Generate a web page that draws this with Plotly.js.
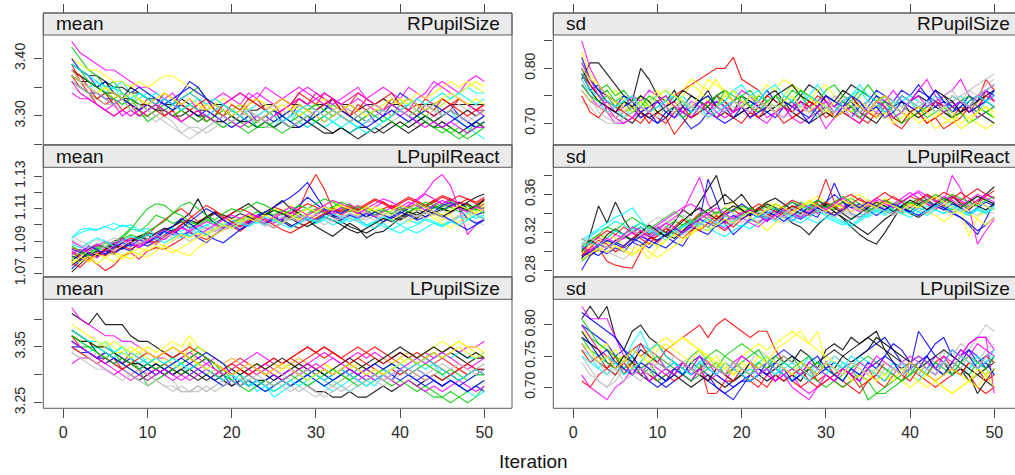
<!DOCTYPE html>
<html>
<head>
<meta charset="utf-8">
<script src="https://cdn.plot.ly/plotly-3.0.1.min.js"></script>
<style>
  html, body { margin: 0; padding: 0; background: #ffffff; }
  #chart { width: 1015px; height: 475px; }
</style>
</head>
<body>
<div id="chart"></div>
<script>
// Convergence trace plot of imputed-value means and SDs across 50 iterations,
// one line per imputation chain.

const iteration = Array.from({ length: 50 }, (_, i) => i + 1);
const iterTicks = [0, 10, 20, 30, 40, 50];

const statLabels = ['mean', 'sd'];
const varLabels = ['RPupilSize', 'LPupilReact', 'LPupilSize'];

// chain colours (R base palette, cycled)
const chainColors = ['#000000', '#FF0000', '#00CD00', '#0000FF', '#00FFFF', '#FF00FF', '#FFFF00', '#BEBEBE'];

// y tick positions and labels per panel
const ticksMeanRSize = [3.25, 3.30, 3.35, 3.40];
const labelsMeanRSize = ['', '3.30', '', '3.40'];
const ticksSdRSize = [0.70, 0.75, 0.80, 0.85];
const labelsSdRSize = ['0.70', '', '0.80', ''];
const ticksMeanLReact = [1.07, 1.08, 1.09, 1.10, 1.11, 1.12, 1.13];
const labelsMeanLReact = ['1.07', '', '1.09', '', '1.11', '', '1.13'];
const ticksSdLReact = [0.28, 0.30, 0.32, 0.34, 0.36, 0.38];
const labelsSdLReact = ['0.28', '', '0.32', '', '0.36', ''];
const ticksMeanLSize = [3.25, 3.30, 3.35, 3.40];
const labelsMeanLSize = ['3.25', '', '3.35', ''];
const ticksSdLSize = [0.70, 0.75, 0.80];
const labelsSdLSize = ['0.70', '0.75', '0.80'];

const meanRPupilSize = [
[3.39,3.38,3.37,3.37,3.36,3.35,3.35,3.34,3.34,3.33,3.33,3.32,3.32,3.33,3.32,3.31,3.31,3.32,3.32,3.31,3.32,3.31,3.31,3.32,3.32,3.33,3.32,3.32,3.31,3.32,3.32,3.33,3.32,3.32,3.31,3.32,3.32,3.33,3.32,3.32,3.33,3.32,3.32,3.32,3.33,3.32,3.32,3.32,3.32,3.32],
[3.37,3.35,3.34,3.33,3.32,3.33,3.31,3.32,3.30,3.31,3.32,3.30,3.31,3.29,3.30,3.31,3.29,3.30,3.32,3.31,3.30,3.32,3.33,3.31,3.32,3.30,3.31,3.33,3.32,3.34,3.33,3.31,3.32,3.30,3.31,3.33,3.32,3.31,3.30,3.31,3.32,3.31,3.33,3.32,3.30,3.31,3.33,3.32,3.31,3.32],
[3.42,3.40,3.38,3.37,3.35,3.36,3.34,3.33,3.31,3.29,3.30,3.31,3.32,3.33,3.34,3.35,3.33,3.32,3.31,3.30,3.29,3.30,3.28,3.28,3.29,3.30,3.31,3.30,3.29,3.30,3.31,3.32,3.31,3.30,3.29,3.30,3.31,3.31,3.30,3.32,3.31,3.30,3.29,3.28,3.28,3.27,3.28,3.27,3.29,3.30],
[3.36,3.35,3.34,3.34,3.33,3.33,3.34,3.32,3.33,3.31,3.32,3.33,3.32,3.34,3.36,3.35,3.33,3.31,3.30,3.29,3.30,3.31,3.29,3.30,3.31,3.29,3.30,3.32,3.31,3.30,3.31,3.33,3.32,3.31,3.30,3.29,3.30,3.31,3.32,3.34,3.33,3.32,3.31,3.30,3.31,3.32,3.30,3.29,3.28,3.29],
[3.38,3.37,3.36,3.35,3.34,3.35,3.36,3.34,3.33,3.34,3.33,3.32,3.33,3.31,3.32,3.33,3.32,3.31,3.30,3.31,3.32,3.30,3.28,3.29,3.28,3.30,3.29,3.31,3.30,3.29,3.28,3.29,3.30,3.29,3.28,3.29,3.30,3.31,3.32,3.33,3.31,3.30,3.31,3.32,3.30,3.31,3.29,3.28,3.27,3.26],
[3.43,3.41,3.40,3.39,3.38,3.38,3.37,3.36,3.35,3.35,3.34,3.33,3.34,3.32,3.33,3.31,3.32,3.33,3.34,3.33,3.32,3.34,3.33,3.35,3.34,3.33,3.32,3.34,3.35,3.34,3.33,3.32,3.33,3.34,3.35,3.33,3.34,3.35,3.34,3.33,3.35,3.34,3.33,3.35,3.36,3.35,3.34,3.36,3.37,3.36],
[3.40,3.39,3.38,3.38,3.37,3.36,3.36,3.35,3.36,3.35,3.36,3.37,3.37,3.36,3.35,3.34,3.33,3.32,3.33,3.32,3.31,3.32,3.33,3.32,3.31,3.30,3.31,3.32,3.31,3.32,3.33,3.31,3.32,3.33,3.34,3.33,3.32,3.31,3.32,3.33,3.32,3.34,3.33,3.34,3.35,3.36,3.35,3.36,3.35,3.34],
[3.35,3.34,3.33,3.33,3.32,3.32,3.31,3.30,3.31,3.30,3.29,3.30,3.29,3.27,3.28,3.28,3.27,3.28,3.29,3.28,3.29,3.30,3.29,3.28,3.28,3.29,3.30,3.29,3.28,3.29,3.30,3.29,3.28,3.27,3.28,3.29,3.29,3.28,3.29,3.30,3.29,3.28,3.29,3.30,3.29,3.28,3.29,3.30,3.29,3.30],
[3.38,3.37,3.36,3.35,3.36,3.34,3.33,3.35,3.34,3.33,3.32,3.31,3.30,3.31,3.32,3.31,3.30,3.29,3.30,3.31,3.30,3.29,3.28,3.29,3.30,3.29,3.28,3.29,3.30,3.29,3.28,3.27,3.28,3.27,3.28,3.28,3.27,3.28,3.29,3.28,3.27,3.28,3.29,3.28,3.29,3.28,3.27,3.28,3.29,3.28],
[3.39,3.36,3.34,3.32,3.31,3.30,3.31,3.32,3.31,3.30,3.31,3.30,3.31,3.33,3.34,3.33,3.31,3.30,3.32,3.33,3.34,3.33,3.32,3.31,3.32,3.33,3.32,3.34,3.33,3.32,3.34,3.33,3.31,3.32,3.34,3.33,3.32,3.31,3.33,3.32,3.31,3.32,3.31,3.30,3.31,3.32,3.33,3.32,3.31,3.31],
[3.36,3.35,3.34,3.33,3.34,3.32,3.33,3.31,3.30,3.30,3.31,3.32,3.31,3.32,3.31,3.30,3.29,3.30,3.31,3.30,3.29,3.28,3.29,3.30,3.31,3.30,3.29,3.30,3.31,3.32,3.31,3.30,3.31,3.30,3.29,3.30,3.31,3.30,3.29,3.28,3.29,3.30,3.29,3.28,3.27,3.28,3.27,3.26,3.27,3.28],
[3.40,3.38,3.37,3.35,3.36,3.34,3.33,3.34,3.35,3.34,3.33,3.32,3.31,3.32,3.31,3.30,3.31,3.30,3.29,3.28,3.29,3.30,3.29,3.30,3.29,3.30,3.31,3.30,3.29,3.31,3.32,3.31,3.30,3.29,3.30,3.31,3.29,3.30,3.32,3.31,3.30,3.29,3.30,3.29,3.28,3.29,3.30,3.29,3.28,3.29],
[3.37,3.36,3.35,3.36,3.34,3.35,3.33,3.32,3.34,3.33,3.34,3.33,3.32,3.33,3.34,3.33,3.32,3.33,3.32,3.31,3.30,3.31,3.32,3.31,3.30,3.29,3.28,3.29,3.28,3.29,3.30,3.29,3.28,3.27,3.28,3.29,3.30,3.29,3.30,3.31,3.32,3.31,3.32,3.31,3.32,3.33,3.34,3.35,3.34,3.34],
[3.34,3.33,3.33,3.32,3.31,3.30,3.31,3.30,3.31,3.32,3.31,3.33,3.32,3.31,3.30,3.29,3.30,3.31,3.32,3.33,3.34,3.33,3.34,3.33,3.32,3.33,3.34,3.35,3.34,3.33,3.32,3.33,3.31,3.32,3.33,3.32,3.31,3.30,3.31,3.30,3.31,3.33,3.34,3.36,3.35,3.34,3.33,3.32,3.31,3.30],
[3.38,3.36,3.35,3.34,3.35,3.33,3.34,3.32,3.33,3.31,3.32,3.31,3.30,3.31,3.32,3.31,3.32,3.31,3.30,3.31,3.32,3.31,3.30,3.31,3.32,3.33,3.32,3.31,3.32,3.31,3.30,3.31,3.32,3.31,3.30,3.31,3.32,3.31,3.32,3.33,3.32,3.31,3.30,3.31,3.32,3.33,3.34,3.35,3.36,3.35],
[3.36,3.35,3.34,3.33,3.34,3.33,3.32,3.33,3.32,3.31,3.30,3.31,3.30,3.29,3.28,3.27,3.28,3.29,3.28,3.29,3.30,3.31,3.30,3.31,3.32,3.31,3.30,3.31,3.32,3.31,3.30,3.31,3.32,3.31,3.30,3.29,3.30,3.31,3.30,3.31,3.32,3.31,3.30,3.31,3.30,3.31,3.32,3.31,3.32,3.31],
[3.37,3.36,3.36,3.35,3.34,3.34,3.33,3.33,3.32,3.32,3.31,3.31,3.30,3.30,3.31,3.30,3.30,3.29,3.29,3.30,3.29,3.29,3.30,3.29,3.28,3.29,3.28,3.28,3.29,3.28,3.27,3.27,3.28,3.27,3.26,3.27,3.28,3.27,3.28,3.29,3.28,3.29,3.30,3.29,3.30,3.31,3.30,3.31,3.30,3.31],
[3.38,3.37,3.35,3.33,3.34,3.32,3.33,3.32,3.31,3.33,3.32,3.34,3.33,3.32,3.31,3.32,3.33,3.31,3.30,3.32,3.31,3.33,3.32,3.31,3.30,3.31,3.32,3.33,3.32,3.31,3.32,3.33,3.31,3.30,3.32,3.31,3.32,3.33,3.34,3.32,3.31,3.30,3.32,3.31,3.33,3.32,3.31,3.30,3.31,3.32],
[3.39,3.38,3.36,3.35,3.34,3.33,3.32,3.33,3.32,3.31,3.32,3.31,3.30,3.31,3.30,3.29,3.30,3.29,3.28,3.29,3.28,3.27,3.28,3.29,3.28,3.27,3.28,3.29,3.30,3.29,3.30,3.31,3.30,3.29,3.30,3.31,3.30,3.29,3.30,3.31,3.30,3.31,3.30,3.29,3.28,3.27,3.26,3.27,3.28,3.29],
[3.37,3.36,3.35,3.34,3.33,3.32,3.33,3.32,3.31,3.32,3.33,3.32,3.33,3.34,3.35,3.34,3.33,3.32,3.31,3.30,3.31,3.30,3.29,3.30,3.31,3.30,3.29,3.28,3.29,3.30,3.29,3.30,3.31,3.30,3.29,3.28,3.29,3.30,3.31,3.30,3.29,3.30,3.31,3.32,3.31,3.30,3.29,3.28,3.29,3.30],
[3.39,3.38,3.37,3.36,3.35,3.35,3.34,3.33,3.34,3.33,3.32,3.33,3.32,3.31,3.32,3.31,3.30,3.31,3.32,3.31,3.30,3.29,3.30,3.31,3.30,3.29,3.30,3.31,3.32,3.31,3.30,3.29,3.28,3.29,3.28,3.27,3.28,3.29,3.30,3.31,3.32,3.33,3.32,3.33,3.34,3.33,3.34,3.33,3.32,3.33],
[3.36,3.34,3.33,3.32,3.31,3.32,3.30,3.31,3.30,3.31,3.32,3.31,3.30,3.29,3.30,3.31,3.30,3.29,3.30,3.29,3.28,3.29,3.30,3.29,3.30,3.31,3.32,3.33,3.32,3.33,3.34,3.33,3.32,3.33,3.34,3.33,3.32,3.31,3.32,3.31,3.30,3.29,3.28,3.29,3.28,3.29,3.28,3.27,3.28,3.28],
[3.37,3.36,3.35,3.34,3.35,3.34,3.33,3.34,3.33,3.32,3.33,3.34,3.33,3.32,3.33,3.32,3.31,3.32,3.31,3.30,3.31,3.30,3.29,3.30,3.31,3.32,3.31,3.30,3.31,3.30,3.29,3.30,3.31,3.32,3.31,3.30,3.31,3.32,3.33,3.32,3.33,3.32,3.31,3.32,3.33,3.34,3.33,3.32,3.33,3.32],
[3.38,3.36,3.35,3.34,3.33,3.32,3.33,3.31,3.32,3.31,3.30,3.29,3.28,3.27,3.26,3.27,3.28,3.29,3.30,3.29,3.30,3.31,3.30,3.29,3.30,3.29,3.28,3.29,3.30,3.31,3.30,3.31,3.30,3.29,3.30,3.31,3.32,3.31,3.30,3.31,3.30,3.31,3.32,3.31,3.30,3.31,3.30,3.29,3.30,3.31]
];

const sdRPupilSize = [
[.78,.81,.81,.79,.77,.75,.74,.80,.78,.75,.74,.76,.73,.75,.74,.76,.73,.74,.72,.75,.74,.73,.75,.76,.74,.73,.75,.77,.76,.74,.73,.75,.77,.76,.75,.74,.72,.73,.75,.74,.73,.72,.74,.75,.73,.72,.74,.75,.74,.73],
[.76,.74,.73,.72,.71,.72,.73,.71,.72,.74,.73,.75,.76,.77,.78,.79,.80,.80,.82,.78,.77,.76,.74,.72,.73,.71,.72,.73,.74,.72,.71,.73,.72,.71,.70,.72,.71,.73,.72,.71,.72,.70,.71,.72,.71,.73,.72,.74,.78,.76],
[.79,.77,.75,.76,.74,.75,.73,.74,.72,.73,.74,.75,.74,.73,.72,.74,.75,.73,.74,.75,.76,.74,.73,.75,.74,.76,.75,.73,.74,.76,.77,.75,.74,.76,.75,.74,.73,.71,.72,.74,.73,.72,.74,.73,.74,.72,.73,.71,.72,.71],
[.82,.78,.76,.74,.73,.75,.74,.72,.71,.70,.71,.73,.72,.71,.73,.72,.74,.73,.71,.72,.73,.74,.76,.74,.73,.72,.74,.73,.72,.74,.73,.72,.71,.73,.74,.76,.75,.74,.76,.75,.77,.75,.74,.73,.72,.74,.73,.75,.76,.77],
[.77,.76,.74,.73,.72,.71,.73,.72,.74,.75,.73,.72,.71,.72,.74,.73,.75,.74,.76,.75,.73,.74,.72,.73,.75,.77,.76,.74,.73,.72,.74,.73,.72,.73,.74,.73,.72,.73,.74,.75,.74,.73,.75,.74,.72,.73,.74,.75,.74,.73],
[.85,.80,.77,.72,.70,.70,.71,.72,.73,.74,.73,.71,.72,.74,.73,.72,.74,.73,.74,.76,.75,.73,.71,.72,.73,.71,.70,.71,.72,.69,.71,.72,.73,.74,.72,.73,.74,.76,.74,.73,.72,.74,.73,.75,.76,.78,.75,.73,.74,.75],
[.83,.79,.77,.75,.76,.74,.73,.75,.73,.72,.73,.74,.76,.78,.77,.76,.78,.75,.74,.73,.74,.75,.77,.76,.78,.77,.75,.74,.76,.77,.75,.74,.73,.72,.71,.73,.72,.74,.73,.72,.71,.73,.72,.71,.70,.72,.71,.70,.69,.70],
[.74,.73,.71,.70,.70,.71,.72,.71,.72,.73,.72,.73,.72,.71,.73,.72,.73,.74,.73,.72,.71,.73,.74,.72,.73,.74,.72,.73,.72,.74,.73,.72,.74,.73,.72,.71,.73,.74,.73,.72,.74,.73,.74,.75,.76,.74,.76,.75,.77,.78],
[.80,.77,.75,.73,.72,.71,.70,.72,.71,.72,.71,.73,.72,.71,.72,.73,.71,.72,.71,.72,.73,.71,.72,.73,.74,.72,.71,.70,.71,.72,.71,.72,.73,.72,.71,.70,.72,.73,.74,.72,.71,.72,.73,.72,.71,.72,.73,.72,.71,.70],
[.75,.72,.71,.73,.72,.74,.73,.72,.70,.72,.71,.68,.70,.72,.74,.73,.75,.74,.72,.73,.71,.73,.75,.74,.73,.72,.74,.73,.75,.74,.71,.72,.71,.70,.72,.71,.73,.70,.69,.71,.72,.70,.71,.69,.70,.71,.73,.72,.76,.74],
[.81,.78,.76,.77,.75,.76,.74,.75,.73,.74,.75,.73,.74,.72,.74,.75,.73,.76,.75,.74,.73,.75,.74,.73,.75,.74,.72,.73,.71,.73,.72,.74,.73,.75,.77,.75,.73,.71,.70,.72,.73,.71,.72,.73,.71,.72,.70,.71,.72,.71],
[.79,.76,.77,.75,.74,.72,.73,.71,.72,.70,.72,.73,.71,.69,.70,.72,.71,.70,.71,.73,.74,.73,.72,.71,.73,.74,.72,.70,.72,.73,.71,.73,.74,.72,.73,.75,.74,.73,.72,.74,.76,.75,.73,.74,.72,.73,.75,.74,.76,.75],
[.78,.75,.74,.72,.73,.71,.72,.74,.73,.75,.76,.74,.75,.73,.74,.72,.73,.74,.76,.77,.75,.76,.74,.73,.75,.74,.76,.75,.77,.75,.74,.73,.75,.76,.74,.73,.72,.74,.73,.74,.72,.73,.74,.72,.74,.75,.73,.72,.74,.76],
[.77,.75,.73,.74,.72,.73,.75,.74,.76,.75,.73,.74,.72,.73,.74,.72,.71,.73,.72,.74,.73,.71,.70,.72,.73,.74,.72,.73,.74,.75,.73,.74,.72,.71,.73,.72,.74,.73,.75,.74,.76,.78,.75,.73,.74,.72,.73,.71,.72,.73],
[.76,.74,.75,.73,.74,.72,.73,.72,.74,.76,.74,.73,.75,.77,.76,.74,.73,.75,.76,.74,.73,.72,.74,.73,.75,.77,.76,.75,.73,.72,.74,.73,.72,.74,.73,.71,.72,.70,.71,.72,.70,.71,.69,.70,.71,.69,.70,.72,.73,.71],
[.78,.75,.72,.71,.70,.71,.72,.73,.72,.74,.73,.72,.71,.73,.72,.74,.73,.72,.74,.73,.72,.73,.74,.73,.75,.74,.73,.72,.74,.73,.75,.74,.73,.72,.74,.73,.75,.74,.73,.74,.75,.74,.76,.75,.74,.75,.76,.77,.78,.79],
[.79,.76,.74,.73,.72,.74,.73,.75,.74,.72,.73,.74,.76,.75,.74,.73,.75,.76,.74,.73,.75,.74,.73,.75,.76,.77,.75,.74,.73,.75,.74,.76,.75,.73,.72,.74,.75,.73,.72,.74,.75,.74,.76,.75,.74,.72,.73,.74,.75,.76],
[.79,.77,.75,.74,.73,.72,.71,.70,.72,.71,.70,.72,.73,.71,.72,.74,.73,.72,.71,.70,.72,.71,.73,.72,.70,.71,.72,.74,.73,.71,.72,.74,.75,.73,.72,.74,.73,.71,.70,.72,.73,.72,.74,.73,.75,.74,.72,.73,.75,.74],
[.77,.75,.74,.75,.73,.74,.72,.73,.75,.74,.72,.73,.71,.72,.74,.73,.75,.76,.74,.75,.73,.72,.74,.75,.73,.74,.76,.75,.74,.73,.72,.74,.73,.71,.72,.73,.74,.72,.70,.71,.72,.73,.74,.72,.73,.74,.75,.73,.72,.73],
[.80,.78,.76,.75,.74,.73,.74,.72,.73,.74,.72,.71,.73,.72,.74,.75,.73,.72,.74,.73,.71,.72,.73,.72,.74,.73,.72,.71,.73,.75,.74,.73,.75,.74,.72,.73,.71,.72,.74,.73,.72,.74,.76,.74,.73,.74,.72,.73,.74,.76],
[.79,.76,.75,.74,.73,.74,.75,.73,.72,.73,.74,.75,.74,.72,.73,.71,.72,.73,.74,.73,.75,.74,.76,.77,.75,.74,.73,.75,.74,.73,.72,.74,.75,.77,.75,.74,.72,.73,.75,.74,.73,.74,.72,.73,.75,.74,.73,.75,.74,.75],
[.81,.78,.75,.73,.71,.70,.71,.73,.72,.74,.75,.73,.72,.71,.73,.74,.72,.71,.72,.73,.72,.74,.73,.72,.71,.73,.74,.72,.73,.74,.72,.73,.71,.70,.72,.74,.73,.71,.72,.74,.75,.73,.74,.72,.73,.74,.73,.75,.76,.74],
[.80,.78,.77,.75,.74,.73,.72,.74,.73,.75,.76,.75,.74,.73,.75,.78,.77,.76,.74,.73,.75,.74,.73,.72,.74,.75,.73,.72,.74,.73,.71,.72,.74,.73,.72,.74,.75,.73,.72,.71,.73,.72,.71,.73,.72,.70,.71,.72,.73,.72],
[.76,.74,.73,.72,.71,.72,.74,.73,.72,.71,.73,.72,.74,.73,.72,.71,.73,.72,.74,.73,.72,.74,.73,.72,.71,.72,.73,.72,.71,.73,.72,.73,.71,.72,.73,.72,.71,.73,.72,.74,.73,.74,.72,.73,.75,.74,.73,.75,.76,.77]
];

const meanLPupilReact = [
[1.078,1.082,1.085,1.088,1.086,1.090,1.092,1.089,1.093,1.095,1.094,1.097,1.099,1.102,1.098,1.101,1.104,1.107,1.103,1.100,1.103,1.106,1.104,1.108,1.105,1.103,1.100,1.098,1.101,1.104,1.107,1.105,1.102,1.099,1.097,1.095,1.098,1.102,1.105,1.103,1.106,1.108,1.105,1.107,1.110,1.108,1.111,1.113,1.110,1.116],
[1.086,1.084,1.080,1.076,1.072,1.075,1.081,1.083,1.079,1.084,1.086,1.085,1.088,1.091,1.095,1.093,1.091,1.094,1.097,1.099,1.096,1.100,1.103,1.101,1.098,1.102,1.104,1.110,1.122,1.131,1.122,1.110,1.106,1.109,1.107,1.105,1.108,1.110,1.112,1.109,1.111,1.113,1.112,1.115,1.113,1.111,1.114,1.112,1.110,1.113],
[1.082,1.085,1.083,1.087,1.086,1.089,1.093,1.098,1.096,1.100,1.106,1.104,1.101,1.103,1.100,1.102,1.104,1.101,1.098,1.100,1.103,1.105,1.108,1.106,1.109,1.107,1.105,1.108,1.110,1.107,1.109,1.111,1.108,1.110,1.107,1.105,1.108,1.106,1.109,1.111,1.108,1.110,1.112,1.114,1.111,1.113,1.110,1.112,1.109,1.111],
[1.073,1.078,1.082,1.080,1.085,1.083,1.086,1.084,1.089,1.087,1.090,1.094,1.097,1.093,1.096,1.092,1.089,1.094,1.098,1.101,1.099,1.102,1.106,1.108,1.105,1.103,1.107,1.112,1.117,1.113,1.109,1.106,1.104,1.107,1.105,1.108,1.106,1.109,1.107,1.105,1.108,1.110,1.107,1.111,1.109,1.112,1.114,1.110,1.106,1.108],
[1.092,1.095,1.097,1.097,1.099,1.101,1.099,1.100,1.097,1.095,1.093,1.096,1.094,1.092,1.095,1.098,1.100,1.097,1.099,1.102,1.100,1.103,1.101,1.104,1.102,1.105,1.103,1.106,1.104,1.101,1.103,1.100,1.102,1.105,1.103,1.100,1.102,1.099,1.097,1.100,1.103,1.101,1.104,1.102,1.100,1.103,1.105,1.107,1.104,1.106],
[1.084,1.081,1.086,1.088,1.085,1.089,1.087,1.091,1.093,1.090,1.088,1.092,1.095,1.093,1.097,1.100,1.098,1.096,1.099,1.102,1.104,1.101,1.103,1.100,1.104,1.107,1.105,1.102,1.106,1.109,1.112,1.108,1.110,1.113,1.109,1.107,1.111,1.114,1.110,1.108,1.112,1.116,1.120,1.127,1.131,1.124,1.110,1.094,1.100,1.104],
[1.080,1.083,1.077,1.081,1.085,1.082,1.079,1.083,1.086,1.084,1.087,1.085,1.083,1.086,1.089,1.092,1.095,1.098,1.101,1.104,1.102,1.106,1.103,1.107,1.110,1.108,1.112,1.109,1.106,1.109,1.112,1.115,1.111,1.109,1.112,1.110,1.108,1.106,1.103,1.106,1.102,1.105,1.108,1.104,1.101,1.098,1.102,1.106,1.110,1.114],
[1.089,1.086,1.088,1.084,1.087,1.090,1.088,1.086,1.089,1.091,1.089,1.092,1.090,1.094,1.097,1.095,1.098,1.096,1.099,1.101,1.098,1.100,1.103,1.101,1.099,1.102,1.104,1.101,1.103,1.106,1.104,1.102,1.105,1.107,1.105,1.103,1.106,1.104,1.107,1.105,1.108,1.106,1.104,1.107,1.105,1.103,1.106,1.104,1.102,1.100],
[1.071,1.076,1.081,1.084,1.082,1.087,1.085,1.089,1.092,1.094,1.091,1.096,1.099,1.103,1.107,1.116,1.106,1.101,1.104,1.107,1.110,1.113,1.109,1.106,1.111,1.115,1.110,1.107,1.103,1.099,1.096,1.093,1.097,1.101,1.098,1.092,1.095,1.096,1.100,1.104,1.107,1.104,1.109,1.112,1.110,1.108,1.111,1.114,1.117,1.119],
[1.077,1.074,1.079,1.083,1.081,1.085,1.089,1.092,1.090,1.094,1.099,1.103,1.107,1.110,1.106,1.102,1.105,1.108,1.104,1.107,1.110,1.108,1.105,1.108,1.111,1.109,1.107,1.110,1.113,1.111,1.108,1.106,1.109,1.112,1.110,1.113,1.116,1.114,1.111,1.114,1.117,1.115,1.112,1.115,1.118,1.116,1.113,1.116,1.114,1.117],
[1.087,1.084,1.082,1.086,1.084,1.088,1.092,1.097,1.104,1.110,1.113,1.112,1.108,1.106,1.102,1.100,1.103,1.101,1.098,1.101,1.104,1.102,1.105,1.108,1.106,1.109,1.106,1.104,1.107,1.110,1.107,1.111,1.114,1.112,1.109,1.111,1.108,1.110,1.106,1.108,1.111,1.109,1.112,1.110,1.113,1.115,1.112,1.108,1.110,1.107],
[1.081,1.079,1.083,1.081,1.084,1.082,1.086,1.088,1.086,1.089,1.092,1.096,1.099,1.104,1.101,1.097,1.094,1.091,1.089,1.093,1.097,1.101,1.105,1.108,1.111,1.114,1.117,1.121,1.126,1.118,1.110,1.106,1.103,1.106,1.104,1.107,1.105,1.102,1.105,1.108,1.106,1.103,1.105,1.108,1.112,1.114,1.110,1.104,1.101,1.103],
[1.092,1.097,1.098,1.097,1.099,1.097,1.100,1.098,1.096,1.098,1.093,1.096,1.098,1.096,1.099,1.097,1.100,1.102,1.100,1.103,1.101,1.104,1.102,1.100,1.103,1.101,1.104,1.106,1.103,1.101,1.104,1.107,1.105,1.102,1.104,1.100,1.098,1.101,1.097,1.095,1.098,1.100,1.103,1.101,1.099,1.102,1.105,1.103,1.106,1.104],
[1.090,1.087,1.084,1.087,1.090,1.088,1.092,1.090,1.087,1.091,1.094,1.097,1.095,1.099,1.096,1.093,1.097,1.100,1.098,1.101,1.099,1.103,1.106,1.104,1.101,1.104,1.108,1.105,1.103,1.106,1.109,1.107,1.111,1.109,1.112,1.108,1.105,1.108,1.111,1.109,1.112,1.115,1.119,1.116,1.113,1.116,1.112,1.109,1.112,1.110],
[1.079,1.077,1.081,1.076,1.080,1.083,1.081,1.079,1.082,1.080,1.084,1.087,1.085,1.083,1.081,1.086,1.090,1.094,1.097,1.100,1.103,1.106,1.104,1.101,1.105,1.108,1.106,1.103,1.107,1.104,1.107,1.110,1.113,1.109,1.106,1.108,1.111,1.109,1.106,1.109,1.107,1.110,1.108,1.106,1.103,1.107,1.099,1.104,1.108,1.112],
[1.093,1.090,1.088,1.091,1.089,1.092,1.090,1.087,1.090,1.093,1.091,1.094,1.092,1.095,1.093,1.096,1.099,1.097,1.100,1.098,1.101,1.104,1.102,1.099,1.102,1.105,1.103,1.106,1.104,1.107,1.105,1.102,1.104,1.107,1.105,1.108,1.106,1.103,1.106,1.109,1.107,1.105,1.108,1.106,1.109,1.107,1.110,1.108,1.106,1.104],
[1.075,1.079,1.083,1.081,1.085,1.088,1.086,1.090,1.093,1.091,1.095,1.098,1.096,1.100,1.103,1.101,1.105,1.108,1.106,1.104,1.107,1.105,1.102,1.106,1.109,1.107,1.104,1.101,1.099,1.102,1.105,1.103,1.100,1.097,1.095,1.098,1.101,1.104,1.102,1.105,1.108,1.106,1.109,1.107,1.105,1.108,1.111,1.109,1.112,1.115],
[1.083,1.080,1.078,1.082,1.085,1.083,1.087,1.085,1.088,1.091,1.089,1.093,1.096,1.100,1.104,1.108,1.112,1.109,1.105,1.102,1.099,1.102,1.105,1.103,1.100,1.097,1.095,1.098,1.101,1.104,1.107,1.110,1.108,1.111,1.109,1.112,1.115,1.113,1.110,1.113,1.116,1.114,1.111,1.114,1.117,1.115,1.118,1.116,1.113,1.116],
[1.079,1.083,1.081,1.085,1.089,1.087,1.091,1.094,1.092,1.096,1.099,1.102,1.107,1.112,1.114,1.110,1.106,1.103,1.107,1.110,1.108,1.111,1.114,1.112,1.109,1.106,1.109,1.112,1.110,1.113,1.116,1.114,1.111,1.108,1.111,1.109,1.106,1.109,1.107,1.110,1.108,1.111,1.114,1.112,1.109,1.111,1.108,1.110,1.112,1.109],
[1.085,1.083,1.087,1.085,1.082,1.086,1.089,1.087,1.091,1.089,1.093,1.096,1.094,1.098,1.102,1.106,1.110,1.107,1.103,1.100,1.097,1.100,1.103,1.101,1.104,1.102,1.099,1.102,1.105,1.103,1.106,1.109,1.107,1.110,1.108,1.105,1.108,1.106,1.104,1.107,1.110,1.113,1.111,1.108,1.106,1.103,1.100,1.097,1.100,1.103],
[1.088,1.086,1.089,1.092,1.090,1.087,1.090,1.093,1.091,1.094,1.092,1.089,1.092,1.095,1.093,1.096,1.094,1.097,1.100,1.098,1.101,1.099,1.102,1.105,1.103,1.100,1.098,1.101,1.104,1.102,1.105,1.103,1.101,1.104,1.102,1.099,1.102,1.105,1.103,1.100,1.097,1.095,1.098,1.101,1.099,1.102,1.100,1.103,1.106,1.104],
[1.082,1.085,1.083,1.080,1.084,1.087,1.091,1.089,1.086,1.090,1.093,1.091,1.095,1.098,1.096,1.099,1.102,1.100,1.103,1.106,1.104,1.107,1.105,1.102,1.105,1.108,1.111,1.109,1.106,1.109,1.112,1.115,1.113,1.110,1.107,1.110,1.113,1.116,1.114,1.111,1.114,1.112,1.109,1.112,1.115,1.113,1.110,1.108,1.111,1.109],
[1.076,1.080,1.078,1.082,1.080,1.077,1.081,1.084,1.082,1.086,1.089,1.087,1.091,1.094,1.092,1.095,1.093,1.097,1.100,1.098,1.101,1.104,1.102,1.106,1.104,1.101,1.104,1.107,1.110,1.108,1.111,1.109,1.112,1.110,1.108,1.111,1.109,1.106,1.109,1.112,1.110,1.113,1.111,1.108,1.106,1.109,1.112,1.110,1.107,1.110],
[1.091,1.088,1.086,1.089,1.087,1.084,1.087,1.090,1.088,1.091,1.094,1.092,1.095,1.093,1.090,1.093,1.096,1.099,1.097,1.100,1.102,1.100,1.103,1.101,1.098,1.101,1.104,1.102,1.105,1.103,1.100,1.103,1.106,1.104,1.102,1.105,1.103,1.106,1.108,1.105,1.103,1.106,1.104,1.107,1.105,1.102,1.105,1.108,1.106,1.103]
];

const sdLPupilReact = [
[0.292,0.318,0.348,0.330,0.352,0.334,0.320,0.326,0.318,0.326,0.320,0.331,0.344,0.338,0.352,0.366,0.380,0.350,0.352,0.360,0.348,0.340,0.334,0.346,0.338,0.330,0.326,0.318,0.328,0.336,0.342,0.335,0.326,0.318,0.312,0.308,0.320,0.334,0.348,0.342,0.350,0.355,0.348,0.352,0.358,0.350,0.344,0.352,0.360,0.368],
[0.300,0.296,0.304,0.290,0.286,0.284,0.283,0.300,0.314,0.316,0.324,0.318,0.326,0.332,0.340,0.334,0.328,0.322,0.330,0.338,0.344,0.338,0.332,0.340,0.346,0.340,0.336,0.344,0.350,0.344,0.338,0.346,0.352,0.346,0.340,0.348,0.354,0.348,0.342,0.350,0.356,0.350,0.344,0.352,0.358,0.352,0.346,0.354,0.360,0.356],
[0.306,0.312,0.318,0.314,0.322,0.318,0.324,0.330,0.326,0.320,0.326,0.332,0.328,0.334,0.330,0.326,0.332,0.338,0.334,0.340,0.346,0.340,0.336,0.342,0.338,0.344,0.350,0.346,0.342,0.348,0.344,0.352,0.356,0.350,0.346,0.342,0.348,0.344,0.340,0.346,0.352,0.358,0.354,0.348,0.344,0.350,0.346,0.352,0.348,0.344],
[0.281,0.296,0.302,0.298,0.304,0.300,0.310,0.306,0.314,0.320,0.316,0.310,0.306,0.320,0.334,0.376,0.352,0.330,0.318,0.326,0.334,0.330,0.338,0.334,0.342,0.338,0.334,0.340,0.336,0.350,0.372,0.352,0.340,0.336,0.342,0.348,0.344,0.340,0.346,0.342,0.338,0.344,0.350,0.346,0.342,0.336,0.328,0.318,0.334,0.352],
[0.312,0.318,0.324,0.330,0.336,0.340,0.346,0.334,0.322,0.318,0.326,0.322,0.318,0.324,0.330,0.326,0.320,0.316,0.322,0.328,0.324,0.330,0.336,0.332,0.338,0.334,0.330,0.336,0.342,0.338,0.334,0.330,0.326,0.332,0.338,0.344,0.340,0.346,0.350,0.346,0.342,0.348,0.344,0.340,0.346,0.342,0.338,0.344,0.340,0.346],
[0.302,0.308,0.315,0.310,0.318,0.314,0.322,0.318,0.312,0.322,0.330,0.336,0.342,0.360,0.378,0.350,0.338,0.330,0.336,0.342,0.336,0.330,0.338,0.344,0.338,0.332,0.340,0.346,0.350,0.344,0.348,0.352,0.346,0.342,0.348,0.354,0.350,0.346,0.352,0.358,0.362,0.354,0.346,0.352,0.380,0.366,0.346,0.308,0.322,0.334],
[0.298,0.303,0.300,0.310,0.306,0.300,0.296,0.302,0.293,0.304,0.312,0.318,0.324,0.320,0.328,0.334,0.340,0.346,0.352,0.346,0.340,0.346,0.352,0.348,0.344,0.338,0.346,0.352,0.358,0.352,0.346,0.350,0.356,0.360,0.354,0.348,0.342,0.348,0.344,0.340,0.346,0.342,0.338,0.332,0.338,0.346,0.316,0.336,0.342,0.348],
[0.310,0.306,0.302,0.300,0.296,0.292,0.300,0.324,0.330,0.336,0.332,0.326,0.320,0.328,0.336,0.340,0.334,0.328,0.334,0.340,0.336,0.332,0.338,0.334,0.330,0.336,0.342,0.338,0.344,0.340,0.336,0.342,0.338,0.334,0.340,0.346,0.342,0.338,0.344,0.340,0.346,0.342,0.348,0.344,0.340,0.346,0.342,0.338,0.344,0.340],
[0.296,0.300,0.308,0.304,0.312,0.316,0.312,0.320,0.316,0.312,0.318,0.314,0.322,0.330,0.338,0.344,0.350,0.360,0.352,0.344,0.338,0.346,0.352,0.356,0.350,0.344,0.340,0.348,0.354,0.348,0.342,0.336,0.330,0.324,0.318,0.326,0.334,0.340,0.346,0.340,0.336,0.342,0.348,0.344,0.340,0.346,0.352,0.348,0.344,0.350],
[0.314,0.308,0.316,0.322,0.318,0.326,0.320,0.314,0.308,0.318,0.326,0.320,0.314,0.322,0.330,0.326,0.334,0.340,0.344,0.338,0.344,0.350,0.346,0.342,0.348,0.354,0.350,0.346,0.352,0.376,0.352,0.356,0.360,0.354,0.350,0.356,0.362,0.356,0.352,0.358,0.354,0.360,0.356,0.362,0.358,0.354,0.360,0.366,0.360,0.356],
[0.290,0.298,0.306,0.312,0.308,0.316,0.312,0.318,0.324,0.320,0.316,0.322,0.328,0.334,0.330,0.336,0.342,0.338,0.334,0.340,0.346,0.342,0.348,0.344,0.340,0.346,0.352,0.348,0.354,0.350,0.346,0.352,0.348,0.344,0.350,0.346,0.342,0.348,0.354,0.350,0.356,0.352,0.348,0.354,0.360,0.356,0.352,0.358,0.354,0.350],
[0.304,0.300,0.306,0.312,0.308,0.304,0.310,0.316,0.312,0.308,0.304,0.312,0.320,0.326,0.322,0.318,0.328,0.338,0.344,0.350,0.344,0.338,0.332,0.340,0.346,0.352,0.346,0.340,0.346,0.352,0.360,0.352,0.346,0.350,0.344,0.338,0.344,0.350,0.346,0.342,0.338,0.344,0.350,0.346,0.340,0.336,0.330,0.322,0.328,0.336],
[0.308,0.316,0.322,0.326,0.332,0.328,0.322,0.326,0.320,0.324,0.318,0.322,0.326,0.330,0.326,0.322,0.328,0.334,0.330,0.326,0.332,0.338,0.334,0.340,0.336,0.332,0.338,0.334,0.330,0.336,0.332,0.328,0.334,0.340,0.336,0.342,0.338,0.344,0.340,0.336,0.342,0.338,0.344,0.340,0.346,0.342,0.338,0.344,0.340,0.346],
[0.296,0.302,0.308,0.304,0.310,0.314,0.320,0.316,0.322,0.328,0.334,0.340,0.346,0.350,0.344,0.338,0.330,0.324,0.330,0.336,0.330,0.326,0.334,0.340,0.336,0.344,0.350,0.346,0.340,0.346,0.352,0.348,0.342,0.348,0.354,0.350,0.344,0.350,0.356,0.362,0.356,0.350,0.346,0.352,0.358,0.354,0.348,0.354,0.360,0.356],
[0.300,0.306,0.312,0.318,0.314,0.308,0.302,0.308,0.300,0.294,0.300,0.306,0.312,0.318,0.324,0.330,0.336,0.342,0.348,0.342,0.336,0.330,0.322,0.330,0.336,0.342,0.348,0.354,0.348,0.344,0.350,0.346,0.342,0.348,0.354,0.350,0.356,0.350,0.344,0.350,0.346,0.352,0.348,0.344,0.340,0.346,0.340,0.334,0.328,0.336],
[0.314,0.308,0.302,0.306,0.300,0.306,0.312,0.318,0.322,0.326,0.330,0.334,0.338,0.334,0.330,0.336,0.342,0.346,0.340,0.336,0.342,0.338,0.344,0.340,0.336,0.342,0.338,0.344,0.348,0.342,0.338,0.344,0.340,0.336,0.342,0.348,0.344,0.340,0.346,0.350,0.346,0.342,0.348,0.344,0.340,0.346,0.350,0.346,0.342,0.348],
[0.300,0.312,0.306,0.318,0.324,0.318,0.312,0.320,0.328,0.322,0.316,0.324,0.332,0.340,0.346,0.340,0.334,0.342,0.348,0.344,0.338,0.344,0.350,0.346,0.342,0.348,0.344,0.338,0.344,0.350,0.346,0.340,0.334,0.340,0.346,0.352,0.348,0.342,0.348,0.354,0.350,0.344,0.350,0.356,0.352,0.346,0.352,0.358,0.354,0.350],
[0.296,0.304,0.312,0.308,0.300,0.306,0.314,0.322,0.316,0.310,0.318,0.326,0.334,0.328,0.322,0.330,0.338,0.332,0.326,0.334,0.340,0.346,0.340,0.334,0.342,0.348,0.344,0.338,0.346,0.352,0.348,0.342,0.350,0.356,0.350,0.346,0.352,0.358,0.352,0.346,0.354,0.360,0.354,0.348,0.356,0.362,0.356,0.350,0.358,0.364],
[0.302,0.310,0.318,0.326,0.322,0.330,0.336,0.330,0.324,0.330,0.336,0.342,0.336,0.330,0.338,0.344,0.340,0.346,0.342,0.348,0.344,0.338,0.344,0.350,0.346,0.352,0.348,0.344,0.350,0.346,0.352,0.358,0.352,0.346,0.342,0.348,0.354,0.350,0.346,0.352,0.348,0.354,0.360,0.356,0.350,0.346,0.352,0.348,0.354,0.358],
[0.294,0.300,0.296,0.304,0.310,0.306,0.314,0.310,0.304,0.312,0.318,0.324,0.320,0.328,0.334,0.330,0.326,0.332,0.338,0.334,0.340,0.336,0.342,0.338,0.332,0.338,0.344,0.340,0.346,0.342,0.338,0.344,0.350,0.346,0.352,0.348,0.344,0.350,0.346,0.340,0.346,0.352,0.348,0.344,0.350,0.346,0.340,0.346,0.352,0.348],
[0.304,0.310,0.306,0.314,0.322,0.318,0.326,0.330,0.324,0.318,0.312,0.320,0.326,0.332,0.328,0.334,0.330,0.326,0.332,0.338,0.342,0.336,0.340,0.346,0.342,0.336,0.342,0.348,0.344,0.340,0.336,0.332,0.328,0.334,0.340,0.346,0.342,0.348,0.344,0.340,0.346,0.342,0.348,0.352,0.348,0.344,0.340,0.346,0.342,0.348],
[0.306,0.300,0.308,0.314,0.310,0.318,0.326,0.322,0.316,0.324,0.330,0.326,0.320,0.328,0.334,0.340,0.346,0.340,0.334,0.340,0.344,0.338,0.332,0.338,0.344,0.340,0.336,0.342,0.348,0.344,0.350,0.356,0.350,0.344,0.350,0.356,0.352,0.346,0.352,0.358,0.364,0.358,0.352,0.358,0.354,0.348,0.354,0.360,0.356,0.352],
[0.292,0.298,0.304,0.300,0.306,0.302,0.298,0.304,0.310,0.306,0.312,0.318,0.314,0.320,0.326,0.322,0.328,0.334,0.330,0.336,0.342,0.338,0.344,0.350,0.346,0.340,0.346,0.352,0.348,0.342,0.348,0.354,0.350,0.344,0.350,0.346,0.352,0.348,0.344,0.350,0.346,0.352,0.358,0.352,0.346,0.340,0.346,0.352,0.348,0.344],
[0.308,0.314,0.310,0.304,0.310,0.316,0.322,0.318,0.324,0.320,0.326,0.322,0.318,0.324,0.330,0.326,0.332,0.338,0.334,0.330,0.336,0.342,0.338,0.334,0.340,0.346,0.342,0.338,0.344,0.340,0.336,0.342,0.348,0.344,0.340,0.346,0.342,0.338,0.344,0.348,0.344,0.340,0.346,0.350,0.346,0.342,0.348,0.352,0.348,0.344]
];

const meanLPupilSize = [
[3.41,3.40,3.39,3.41,3.39,3.39,3.39,3.37,3.36,3.36,3.35,3.34,3.33,3.34,3.33,3.32,3.33,3.32,3.31,3.30,3.31,3.30,3.29,3.29,3.30,3.29,3.28,3.29,3.28,3.27,3.27,3.26,3.26,3.27,3.26,3.26,3.27,3.28,3.27,3.28,3.29,3.28,3.29,3.30,3.29,3.30,3.29,3.30,3.31,3.31],
[3.37,3.35,3.34,3.33,3.34,3.33,3.32,3.34,3.33,3.32,3.33,3.34,3.35,3.34,3.33,3.32,3.31,3.30,3.31,3.32,3.33,3.32,3.31,3.32,3.33,3.32,3.33,3.34,3.35,3.34,3.33,3.34,3.33,3.32,3.33,3.34,3.35,3.34,3.33,3.34,3.33,3.34,3.33,3.32,3.33,3.32,3.31,3.32,3.31,3.30],
[3.38,3.37,3.36,3.35,3.34,3.33,3.32,3.31,3.30,3.29,3.30,3.31,3.32,3.33,3.34,3.35,3.34,3.33,3.32,3.31,3.30,3.28,3.29,3.28,3.27,3.28,3.29,3.30,3.29,3.30,3.29,3.28,3.29,3.30,3.29,3.28,3.29,3.30,3.29,3.28,3.29,3.28,3.27,3.26,3.26,3.25,3.26,3.25,3.26,3.28],
[3.35,3.34,3.34,3.33,3.33,3.32,3.33,3.32,3.31,3.32,3.31,3.30,3.31,3.32,3.33,3.34,3.33,3.31,3.30,3.28,3.29,3.28,3.29,3.28,3.29,3.30,3.31,3.30,3.31,3.30,3.29,3.30,3.31,3.30,3.31,3.30,3.29,3.30,3.29,3.31,3.30,3.29,3.28,3.29,3.28,3.29,3.28,3.27,3.28,3.27],
[3.37,3.36,3.35,3.35,3.36,3.34,3.35,3.33,3.34,3.32,3.33,3.32,3.31,3.32,3.30,3.31,3.30,3.29,3.30,3.29,3.28,3.29,3.27,3.28,3.26,3.27,3.28,3.29,3.28,3.29,3.28,3.27,3.28,3.27,3.28,3.29,3.28,3.30,3.31,3.32,3.33,3.32,3.31,3.32,3.30,3.29,3.28,3.27,3.26,3.27],
[3.42,3.40,3.39,3.38,3.37,3.37,3.36,3.36,3.35,3.34,3.33,3.33,3.32,3.33,3.34,3.33,3.32,3.33,3.32,3.33,3.32,3.33,3.34,3.33,3.32,3.31,3.32,3.33,3.32,3.33,3.34,3.33,3.32,3.33,3.34,3.33,3.34,3.33,3.32,3.33,3.34,3.33,3.34,3.33,3.34,3.35,3.34,3.35,3.35,3.36],
[3.37,3.36,3.36,3.35,3.35,3.34,3.34,3.35,3.34,3.35,3.34,3.35,3.36,3.35,3.37,3.35,3.34,3.33,3.32,3.33,3.32,3.31,3.32,3.31,3.30,3.31,3.32,3.31,3.30,3.31,3.32,3.31,3.30,3.31,3.30,3.31,3.32,3.33,3.32,3.33,3.34,3.33,3.34,3.35,3.34,3.35,3.36,3.35,3.35,3.34],
[3.34,3.33,3.32,3.31,3.31,3.30,3.31,3.30,3.29,3.30,3.29,3.30,3.29,3.27,3.27,3.28,3.27,3.28,3.29,3.28,3.29,3.30,3.29,3.28,3.29,3.28,3.27,3.28,3.27,3.26,3.27,3.28,3.27,3.28,3.29,3.28,3.29,3.28,3.29,3.28,3.29,3.30,3.29,3.30,3.31,3.30,3.31,3.30,3.31,3.32],
[3.37,3.36,3.36,3.34,3.33,3.32,3.31,3.30,3.29,3.30,3.31,3.30,3.31,3.30,3.31,3.30,3.29,3.30,3.29,3.28,3.29,3.30,3.31,3.30,3.29,3.30,3.31,3.32,3.31,3.30,3.31,3.30,3.31,3.32,3.31,3.32,3.33,3.32,3.33,3.34,3.33,3.32,3.33,3.34,3.33,3.34,3.33,3.32,3.33,3.33],
[3.36,3.35,3.34,3.33,3.32,3.33,3.31,3.32,3.31,3.30,3.31,3.32,3.31,3.30,3.31,3.32,3.31,3.30,3.31,3.32,3.31,3.30,3.31,3.32,3.33,3.32,3.33,3.34,3.35,3.34,3.35,3.34,3.33,3.34,3.35,3.34,3.33,3.32,3.33,3.32,3.31,3.30,3.29,3.30,3.29,3.30,3.31,3.30,3.31,3.30],
[3.36,3.35,3.35,3.34,3.33,3.34,3.32,3.33,3.31,3.28,3.29,3.30,3.31,3.30,3.31,3.32,3.33,3.32,3.31,3.29,3.28,3.27,3.28,3.29,3.28,3.29,3.30,3.31,3.30,3.31,3.30,3.29,3.30,3.29,3.28,3.29,3.30,3.29,3.28,3.29,3.28,3.27,3.28,3.27,3.26,3.27,3.26,3.27,3.28,3.29],
[3.35,3.35,3.34,3.33,3.34,3.33,3.32,3.33,3.32,3.31,3.32,3.31,3.30,3.31,3.32,3.33,3.34,3.33,3.32,3.30,3.28,3.29,3.28,3.29,3.30,3.29,3.28,3.29,3.30,3.31,3.30,3.29,3.30,3.31,3.30,3.29,3.30,3.31,3.30,3.29,3.30,3.31,3.30,3.29,3.28,3.29,3.28,3.27,3.28,3.29],
[3.36,3.35,3.34,3.35,3.34,3.33,3.34,3.33,3.32,3.33,3.32,3.31,3.32,3.31,3.30,3.31,3.30,3.31,3.30,3.29,3.30,3.29,3.28,3.27,3.28,3.29,3.28,3.29,3.30,3.29,3.28,3.29,3.28,3.29,3.30,3.31,3.30,3.31,3.30,3.31,3.32,3.33,3.32,3.33,3.34,3.33,3.34,3.33,3.33,3.34],
[3.32,3.33,3.33,3.32,3.31,3.30,3.31,3.30,3.31,3.30,3.31,3.30,3.29,3.30,3.29,3.30,3.31,3.30,3.31,3.30,3.31,3.32,3.31,3.32,3.31,3.30,3.31,3.30,3.31,3.32,3.31,3.30,3.31,3.30,3.29,3.30,3.29,3.30,3.29,3.28,3.29,3.28,3.27,3.28,3.27,3.28,3.29,3.28,3.27,3.28],
[3.38,3.37,3.36,3.35,3.36,3.35,3.34,3.33,3.34,3.33,3.32,3.33,3.32,3.31,3.36,3.31,3.30,3.31,3.30,3.31,3.32,3.31,3.30,3.31,3.32,3.31,3.32,3.33,3.32,3.31,3.32,3.31,3.30,3.31,3.32,3.31,3.30,3.31,3.32,3.33,3.32,3.33,3.34,3.35,3.36,3.35,3.36,3.35,3.34,3.33],
[3.35,3.34,3.33,3.34,3.33,3.32,3.31,3.30,3.31,3.30,3.29,3.28,3.28,3.27,3.27,3.28,3.27,3.28,3.29,3.30,3.29,3.30,3.31,3.30,3.31,3.30,3.29,3.30,3.31,3.30,3.29,3.28,3.29,3.30,3.31,3.30,3.31,3.30,3.29,3.30,3.31,3.30,3.29,3.30,3.31,3.30,3.31,3.32,3.31,3.32],
[3.38,3.37,3.36,3.35,3.35,3.34,3.33,3.32,3.32,3.31,3.32,3.31,3.30,3.31,3.30,3.29,3.30,3.29,3.30,3.31,3.30,3.31,3.32,3.31,3.32,3.33,3.32,3.31,3.32,3.31,3.30,3.31,3.32,3.33,3.32,3.31,3.32,3.33,3.34,3.35,3.34,3.33,3.34,3.35,3.34,3.35,3.34,3.33,3.34,3.33],
[3.35,3.34,3.33,3.32,3.33,3.32,3.31,3.32,3.33,3.34,3.33,3.34,3.33,3.34,3.35,3.34,3.33,3.32,3.31,3.30,3.31,3.30,3.31,3.30,3.31,3.32,3.33,3.32,3.33,3.34,3.35,3.34,3.33,3.32,3.33,3.32,3.31,3.30,3.31,3.30,3.31,3.32,3.33,3.32,3.31,3.30,3.31,3.32,3.31,3.31],
[3.37,3.36,3.35,3.34,3.33,3.32,3.33,3.32,3.31,3.32,3.31,3.32,3.33,3.32,3.33,3.34,3.33,3.32,3.30,3.29,3.28,3.29,3.28,3.29,3.28,3.29,3.30,3.29,3.28,3.29,3.30,3.31,3.30,3.29,3.30,3.31,3.30,3.31,3.32,3.31,3.30,3.31,3.32,3.31,3.30,3.31,3.30,3.29,3.30,3.30],
[3.36,3.35,3.34,3.33,3.32,3.33,3.32,3.31,3.30,3.31,3.30,3.31,3.32,3.33,3.32,3.31,3.30,3.29,3.28,3.29,3.28,3.29,3.28,3.27,3.28,3.29,3.28,3.29,3.30,3.29,3.28,3.29,3.30,3.31,3.30,3.31,3.32,3.31,3.32,3.31,3.30,3.29,3.30,3.29,3.28,3.29,3.28,3.29,3.30,3.31],
[3.38,3.37,3.36,3.36,3.35,3.34,3.35,3.34,3.33,3.32,3.33,3.32,3.33,3.32,3.31,3.32,3.31,3.30,3.29,3.30,3.29,3.28,3.29,3.28,3.27,3.28,3.29,3.28,3.29,3.30,3.29,3.30,3.31,3.30,3.29,3.28,3.29,3.30,3.31,3.32,3.31,3.32,3.33,3.32,3.31,3.30,3.29,3.30,3.31,3.30],
[3.36,3.35,3.34,3.33,3.32,3.31,3.30,3.29,3.30,3.29,3.30,3.31,3.30,3.29,3.30,3.31,3.32,3.31,3.30,3.31,3.32,3.31,3.30,3.31,3.30,3.29,3.30,3.31,3.32,3.31,3.32,3.33,3.32,3.31,3.30,3.31,3.30,3.29,3.30,3.31,3.32,3.33,3.32,3.33,3.34,3.33,3.32,3.31,3.32,3.33],
[3.39,3.38,3.37,3.36,3.35,3.36,3.35,3.34,3.35,3.34,3.33,3.34,3.35,3.34,3.33,3.32,3.31,3.32,3.31,3.30,3.31,3.32,3.31,3.30,3.31,3.32,3.31,3.30,3.29,3.30,3.31,3.30,3.31,3.32,3.31,3.30,3.31,3.30,3.31,3.32,3.33,3.32,3.33,3.34,3.33,3.34,3.35,3.34,3.33,3.34],
[3.34,3.33,3.33,3.32,3.31,3.30,3.29,3.30,3.29,3.28,3.29,3.28,3.27,3.28,3.27,3.27,3.28,3.27,3.28,3.29,3.28,3.29,3.30,3.29,3.28,3.29,3.28,3.27,3.28,3.27,3.26,3.27,3.28,3.27,3.28,3.29,3.30,3.29,3.30,3.31,3.30,3.31,3.30,3.31,3.32,3.31,3.32,3.31,3.30,3.31]
];

const sdLPupilSize = [
[.81,.83,.81,.83,.78,.76,.79,.80,.78,.77,.75,.74,.73,.72,.73,.74,.73,.72,.73,.72,.71,.72,.73,.74,.75,.74,.76,.75,.73,.76,.77,.76,.78,.77,.78,.79,.76,.75,.74,.73,.74,.75,.73,.74,.72,.73,.71,.72,.71,.73],
[.71,.70,.72,.73,.74,.75,.76,.75,.76,.77,.76,.77,.78,.79,.80,.78,.80,.81,.80,.79,.78,.79,.79,.76,.74,.73,.72,.73,.71,.72,.71,.70,.71,.72,.73,.71,.70,.72,.71,.73,.72,.71,.70,.71,.72,.73,.72,.70,.69,.70],
[.80,.78,.77,.76,.75,.74,.75,.73,.74,.72,.73,.74,.73,.75,.76,.74,.73,.75,.76,.77,.76,.75,.74,.73,.74,.75,.73,.72,.71,.70,.71,.72,.73,.71,.68,.69,.70,.71,.72,.73,.72,.74,.73,.72,.74,.73,.72,.74,.75,.74],
[.80,.79,.78,.77,.75,.76,.74,.73,.72,.71,.70,.71,.72,.71,.73,.72,.70,.69,.68,.70,.72,.73,.74,.75,.76,.75,.74,.73,.72,.73,.74,.73,.74,.75,.76,.77,.78,.76,.74,.73,.79,.77,.75,.74,.73,.75,.76,.74,.75,.76],
[.77,.76,.74,.73,.72,.74,.77,.79,.76,.75,.73,.74,.72,.73,.75,.74,.73,.72,.71,.72,.73,.72,.71,.72,.73,.74,.73,.75,.74,.73,.75,.74,.73,.72,.71,.73,.72,.74,.73,.72,.74,.73,.75,.74,.73,.72,.73,.74,.73,.72],
[.83,.81,.81,.81,.78,.75,.73,.77,.76,.75,.73,.74,.72,.71,.73,.74,.72,.71,.73,.72,.74,.73,.72,.71,.73,.72,.70,.69,.70,.71,.72,.73,.72,.71,.73,.74,.73,.72,.74,.75,.74,.73,.75,.74,.76,.75,.77,.78,.78,.76],
[.79,.78,.76,.77,.74,.75,.73,.74,.76,.77,.78,.77,.78,.77,.76,.74,.75,.73,.74,.75,.76,.77,.76,.77,.78,.79,.78,.77,.79,.74,.73,.72,.73,.74,.73,.72,.71,.72,.71,.70,.71,.72,.71,.70,.69,.70,.71,.72,.73,.71],
[.75,.73,.71,.70,.71,.73,.72,.74,.73,.75,.74,.73,.74,.75,.74,.73,.74,.73,.74,.75,.74,.76,.75,.74,.73,.72,.73,.74,.73,.74,.75,.74,.73,.72,.73,.74,.73,.72,.74,.73,.74,.75,.74,.76,.75,.77,.76,.78,.80,.79],
[.78,.77,.76,.75,.74,.73,.74,.72,.71,.72,.71,.72,.71,.70,.71,.72,.71,.70,.71,.72,.71,.72,.71,.72,.71,.72,.71,.73,.72,.74,.73,.75,.76,.77,.78,.77,.76,.74,.73,.74,.75,.74,.73,.72,.74,.73,.72,.69,.71,.70],
[.77,.75,.74,.73,.75,.72,.74,.73,.72,.71,.72,.71,.72,.73,.74,.69,.69,.71,.71,.72,.71,.70,.72,.73,.72,.71,.70,.71,.72,.74,.72,.71,.70,.69,.71,.72,.71,.73,.72,.74,.73,.72,.71,.72,.73,.72,.74,.73,.71,.72],
[.81,.79,.77,.76,.75,.73,.74,.72,.73,.71,.72,.73,.72,.71,.72,.73,.74,.72,.73,.74,.75,.76,.74,.73,.72,.73,.74,.75,.73,.72,.71,.70,.71,.72,.71,.69,.69,.70,.71,.72,.74,.73,.72,.74,.73,.75,.74,.73,.72,.73],
[.82,.81,.80,.79,.78,.76,.75,.73,.71,.70,.71,.72,.74,.73,.72,.71,.70,.69,.70,.71,.71,.72,.74,.73,.72,.71,.72,.73,.72,.73,.74,.73,.72,.71,.73,.74,.75,.77,.76,.74,.73,.75,.77,.78,.75,.74,.76,.75,.73,.75],
[.76,.75,.73,.72,.74,.73,.75,.77,.76,.74,.73,.74,.72,.73,.74,.75,.73,.72,.71,.72,.73,.74,.75,.73,.72,.71,.73,.72,.74,.73,.72,.74,.73,.75,.74,.73,.72,.73,.74,.72,.71,.73,.74,.73,.72,.74,.73,.75,.74,.76],
[.72,.70,.69,.68,.70,.71,.73,.72,.74,.73,.72,.73,.74,.72,.73,.71,.72,.74,.73,.75,.74,.73,.72,.71,.72,.70,.69,.68,.70,.72,.71,.73,.72,.71,.73,.74,.73,.72,.74,.73,.74,.73,.72,.74,.76,.75,.77,.78,.78,.69],
[.78,.77,.76,.75,.76,.74,.73,.74,.75,.77,.76,.77,.78,.77,.76,.75,.74,.73,.72,.74,.73,.75,.74,.76,.77,.78,.79,.77,.76,.75,.74,.73,.71,.72,.71,.73,.72,.71,.73,.72,.71,.70,.71,.70,.69,.70,.71,.70,.72,.70],
[.74,.72,.71,.70,.72,.73,.72,.71,.73,.74,.73,.72,.74,.73,.72,.71,.73,.72,.74,.73,.72,.71,.73,.72,.74,.73,.72,.71,.73,.74,.73,.72,.74,.73,.72,.71,.73,.72,.74,.73,.72,.74,.73,.72,.74,.73,.75,.74,.76,.77],
[.79,.77,.76,.74,.73,.75,.74,.76,.75,.74,.73,.72,.74,.73,.72,.71,.73,.72,.71,.72,.74,.73,.72,.73,.74,.75,.74,.73,.74,.75,.76,.75,.74,.75,.76,.78,.77,.76,.75,.74,.73,.74,.75,.76,.75,.74,.73,.72,.73,.74],
[.76,.74,.75,.73,.72,.74,.76,.77,.75,.74,.76,.75,.74,.73,.72,.74,.73,.72,.71,.73,.72,.71,.70,.72,.71,.72,.73,.71,.70,.71,.72,.73,.72,.70,.71,.72,.74,.73,.72,.71,.73,.72,.74,.75,.73,.72,.74,.73,.75,.74],
[.78,.76,.75,.74,.73,.74,.72,.73,.74,.75,.74,.73,.72,.74,.73,.75,.76,.75,.74,.73,.72,.74,.73,.75,.74,.73,.72,.73,.74,.73,.72,.71,.73,.74,.75,.74,.73,.72,.71,.72,.73,.72,.74,.73,.72,.74,.75,.74,.73,.75],
[.78,.77,.75,.76,.74,.73,.72,.74,.73,.72,.71,.73,.72,.74,.75,.73,.72,.71,.70,.71,.72,.73,.72,.74,.73,.71,.72,.74,.75,.73,.72,.71,.73,.72,.74,.73,.75,.74,.72,.73,.74,.75,.73,.72,.74,.76,.75,.73,.74,.72],
[.75,.74,.73,.75,.74,.72,.73,.74,.76,.77,.75,.74,.73,.72,.74,.73,.72,.74,.73,.72,.71,.72,.73,.72,.74,.73,.72,.71,.73,.72,.74,.73,.75,.74,.73,.72,.71,.73,.72,.74,.75,.74,.73,.74,.76,.75,.74,.73,.74,.75],
[.80,.78,.76,.75,.73,.74,.72,.73,.71,.72,.73,.72,.74,.73,.75,.74,.73,.72,.74,.75,.74,.72,.73,.71,.72,.73,.72,.74,.73,.72,.71,.73,.72,.74,.73,.75,.74,.73,.72,.74,.75,.74,.73,.75,.74,.76,.75,.77,.76,.75],
[.77,.76,.74,.75,.73,.74,.76,.75,.74,.76,.77,.76,.75,.74,.76,.75,.73,.74,.72,.73,.74,.73,.75,.74,.73,.72,.74,.73,.72,.74,.73,.72,.74,.73,.72,.71,.72,.73,.72,.74,.73,.72,.71,.72,.73,.72,.71,.73,.72,.73],
[.77,.75,.74,.72,.73,.71,.72,.73,.72,.74,.73,.75,.74,.73,.72,.74,.73,.72,.74,.73,.72,.73,.74,.73,.75,.74,.73,.72,.73,.74,.73,.72,.74,.73,.72,.73,.74,.73,.72,.73,.74,.73,.72,.74,.73,.75,.74,.73,.75,.76]
];

// ---- page geometry (pixels) ----
const W = 1015, H = 475;
const fx = p => p / W;
const fy = p => 1 - p / H;

const colLeft = [43.3, 553.3];
const colRight = [512, 1022];          // right column runs past the page edge
const colZero = [63.3, 573.3];         // pixel position of iteration 0
const pxPerIter = 8.42;
const stripTop = [13, 145, 277];
const plotTop = [35, 167.3, 299.3];
const plotBottom = [145, 277, 408.3];

const panels = [
  { data: meanRPupilSize, stat: 0, v: 0, row: 0, col: 0, yr: [3.2494, 3.441], tv: ticksMeanRSize, tt: labelsMeanRSize },
  { data: sdRPupilSize, stat: 1, v: 0, row: 0, col: 1, yr: [0.6605, 0.8606], tv: ticksSdRSize, tt: labelsSdRSize },
  { data: meanLPupilReact, stat: 0, v: 1, row: 1, col: 0, yr: [1.068, 1.1354], tv: ticksMeanLReact, tt: labelsMeanLReact },
  { data: sdLPupilReact, stat: 1, v: 1, row: 1, col: 1, yr: [0.2736, 0.3884], tv: ticksSdLReact, tt: labelsSdLReact },
  { data: meanLPupilSize, stat: 0, v: 2, row: 2, col: 0, yr: [3.240, 3.4353], tv: ticksMeanLSize, tt: labelsMeanLSize },
  { data: sdLPupilSize, stat: 1, v: 2, row: 2, col: 1, yr: [0.6663, 0.8412], tv: ticksSdLSize, tt: labelsSdLSize }
];

const FONT = 'Liberation Sans, Arial, Helvetica, sans-serif';
const frameColor = '#5c5c5c';
const tickColor = '#4a4a4a';

const traces = [];
const layout = {
  width: W, height: H,
  margin: { l: 0, r: 0, t: 0, b: 0, pad: 0 },
  paper_bgcolor: '#ffffff',
  plot_bgcolor: 'rgba(0,0,0,0)',
  showlegend: false,
  font: { family: FONT, color: '#222222' },
  shapes: [],
  annotations: []
};

panels.forEach((p, k) => {
  const id = k === 0 ? '' : String(k + 1);
  const c = p.col, r = p.row;
  const visRight = Math.min(colRight[c], W);
  const xr = [(colLeft[c] - colZero[c]) / pxPerIter, (visRight - colZero[c]) / pxPerIter];

  p.data.forEach((ys, j) => {
    traces.push({
      type: 'scatter', mode: 'lines',
      x: iteration, y: ys,
      xaxis: 'x' + id, yaxis: 'y' + id,
      line: { color: chainColors[j % chainColors.length], width: 1.15 },
      opacity: 0.85,
      hoverinfo: 'skip'
    });
  });

  const xa = {
    domain: [fx(colLeft[c]), fx(visRight)],
    range: xr,
    showgrid: false, zeroline: false, showline: false,
    tickmode: 'array', tickvals: iterTicks,
    fixedrange: true
  };
  if (r === 0) {
    Object.assign(xa, {
      side: 'top', anchor: 'free', position: fy(stripTop[0]),
      ticks: 'outside', ticklen: 9, tickwidth: 1, tickcolor: tickColor,
      showticklabels: false
    });
  } else if (r === 2) {
    Object.assign(xa, {
      anchor: 'y' + id, side: 'bottom',
      ticks: 'outside', ticklen: 9, tickwidth: 1, tickcolor: tickColor,
      showticklabels: true,
      tickfont: { family: FONT, size: 16, color: '#2b2b2b' }
    });
  } else {
    Object.assign(xa, { anchor: 'y' + id, ticks: '', showticklabels: false });
  }
  layout['xaxis' + id] = xa;

  layout['yaxis' + id] = {
    domain: [fy(plotBottom[r]), fy(plotTop[r])],
    range: p.yr,
    anchor: 'x' + id, side: 'left',
    showgrid: false, zeroline: false, showline: false,
    tickmode: 'array', tickvals: p.tv, ticktext: p.tt,
    ticks: 'outside', ticklen: 8, tickwidth: 1, tickcolor: tickColor,
    tickangle: -90,
    tickfont: { family: FONT, size: 14, color: '#2b2b2b' },
    ticklabelstandoff: 4,
    fixedrange: true
  };

  // strip
  layout.shapes.push({
    type: 'rect', xref: 'paper', yref: 'paper', layer: 'above',
    x0: fx(colLeft[c]), x1: fx(colRight[c]),
    y0: fy(plotTop[r]), y1: fy(stripTop[r]),
    fillcolor: '#ebebeb', line: { color: frameColor, width: 1 }
  });
  // panel frame
  layout.shapes.push({
    type: 'rect', xref: 'paper', yref: 'paper', layer: 'above',
    x0: fx(colLeft[c]), x1: fx(colRight[c]),
    y0: fy(plotBottom[r]), y1: fy(stripTop[r]),
    fillcolor: 'rgba(0,0,0,0)', line: { color: frameColor, width: 1 }
  });

  const midStrip = fy((stripTop[r] + plotTop[r]) / 2);
  layout.annotations.push({
    xref: 'paper', yref: 'paper', x: fx(colLeft[c] + 10.5), y: midStrip,
    xanchor: 'left', yanchor: 'middle', showarrow: false,
    text: statLabels[p.stat],
    font: { family: FONT, size: 19, color: '#111111' }
  });
  layout.annotations.push({
    xref: 'paper', yref: 'paper', x: fx(colRight[c] - 10.3), y: midStrip,
    xanchor: 'right', yanchor: 'middle', showarrow: false,
    text: varLabels[p.v],
    font: { family: FONT, size: 19, color: '#111111' }
  });
});

layout.annotations.push({
  xref: 'paper', yref: 'paper', x: fx(533), y: fy(461.5),
  xanchor: 'center', yanchor: 'middle', showarrow: false,
  text: 'Iteration',
  font: { family: FONT, size: 19, color: '#111111' }
});

Plotly.newPlot('chart', traces, layout, { displayModeBar: false, staticPlot: true });
</script>
</body>
</html>
